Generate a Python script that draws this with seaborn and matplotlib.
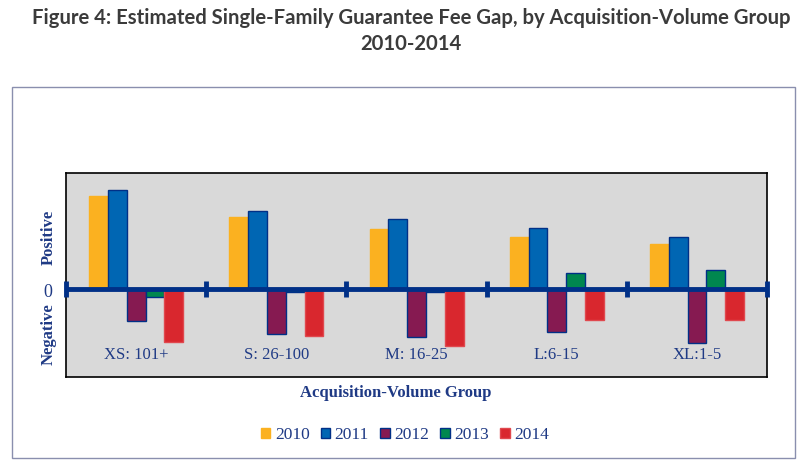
import pandas as pd
import matplotlib
matplotlib.use('Agg')
import matplotlib.pyplot as plt
import seaborn as sns
from matplotlib.patches import Rectangle, Patch

# data (arbitrary units, positive = above zero line)
groups = ['XS: 101+', 'S: 26-100', 'M: 16-25', 'L:6-15', 'XL:1-5']
years = ['2010', '2011', '2012', '2013', '2014']
gap_2010 = [93.5, 72, 60.5, 52, 45]
gap_2011 = [99, 78, 70, 61, 52]
gap_2012 = [-31.5, -45, -48, -43, -54]
gap_2013 = [-7.5, -3, -3, 16, 19.5]
gap_2014 = [-53, -47, -57, -30.5, -31]

colors = ['#FBB120', '#0066B3', '#861A51', '#00874F', '#D9272E']
edges = ['#FBB120', '#003087', '#003087', '#003087', '#E0484E']
navy = '#003087'
text_navy = '#1F3A85'

# long form table for seaborn
values = [gap_2010, gap_2011, gap_2012, gap_2013, gap_2014]
rows = []
for year, vals in zip(years, values):
    for g, v in zip(groups, vals):
        rows.append({'group': g, 'year': year, 'value': v})
df = pd.DataFrame(rows)

sns.set_style('white')
fig = plt.figure(figsize=(8.05, 4.70), dpi=100)
ax = fig.add_axes([0.082, 0.198, 0.871, 0.434])

sns.barplot(data=df, x='group', y='value', hue='year', palette=colors,
            width=0.67, saturation=1, ax=ax, legend=False)

# per-year edge colours
for cont, ec in zip(ax.containers, edges):
    for bar in cont:
        bar.set_edgecolor(ec)
        bar.set_linewidth(1.0)

ax.set_facecolor('#D9D9D9')
ax.set_ylim(-87.5, 116.5)
ax.set_xlim(-0.5, 4.5)
for s in ax.spines.values():
    s.set_color('black')
    s.set_linewidth(1.2)

# zero axis with group dividers
ax.axhline(0, color=navy, lw=3.5, zorder=5)
ax.plot([-0.5, 0.5, 1.5, 2.5, 3.5, 4.5], [0] * 6, ls='none', marker='|',
        ms=11, mew=3.5, color=navy, zorder=6, clip_on=False)

ax.set_xticks([])
ax.set_yticks([])
ax.set_xlabel('')
ax.set_ylabel('')

serif = 'Liberation Serif'
for i, g in enumerate(groups):
    ax.text(i, -66, g, ha='center', va='center', fontsize=12,
            family=serif, color=text_navy)

# side labels
fig.text(0.06, 0.495, 'Positive', rotation=90, ha='center', va='center',
         fontsize=12, fontweight='bold', family=serif, color=text_navy)
fig.text(0.06, 0.29, 'Negative', rotation=90, ha='center', va='center',
         fontsize=12, fontweight='bold', family=serif, color=text_navy)
fig.text(0.06, 0.377, '0', ha='center', va='center',
         fontsize=13, family=serif, color=text_navy)

fig.text(0.492, 0.163, 'Acquisition-Volume Group', ha='center', va='center',
         fontsize=12, fontweight='bold', family=serif, color=text_navy)

# title
fig.text(0.511, 0.962, 'Figure 4: Estimated Single-Family Guarantee Fee Gap, by Acquisition-Volume Group',
         ha='center', va='center', fontsize=14.6, fontweight='bold', family='Lato', color='#3B3B3B')
fig.text(0.511, 0.907, '2010-2014', ha='center', va='center', fontsize=14.6,
         fontweight='bold', family='Lato', color='#3B3B3B')

# outer frame
fig.patches.append(Rectangle((0.015, 0.025), 0.973, 0.79, transform=fig.transFigure,
                             fill=False, edgecolor='#8A8FAE', lw=1.0))

handles = [Patch(facecolor=c, edgecolor=e, label=y) for c, e, y in zip(colors, edges, years)]
fig.legend(handles=handles, loc='center', bbox_to_anchor=(0.503, 0.074), ncol=5,
           frameon=False, prop={'family': serif, 'size': 12.5}, handlelength=0.55,
           handleheight=0.55, handletextpad=0.25, columnspacing=0.65, labelcolor=text_navy)

fig.savefig('out.png', dpi=100)
